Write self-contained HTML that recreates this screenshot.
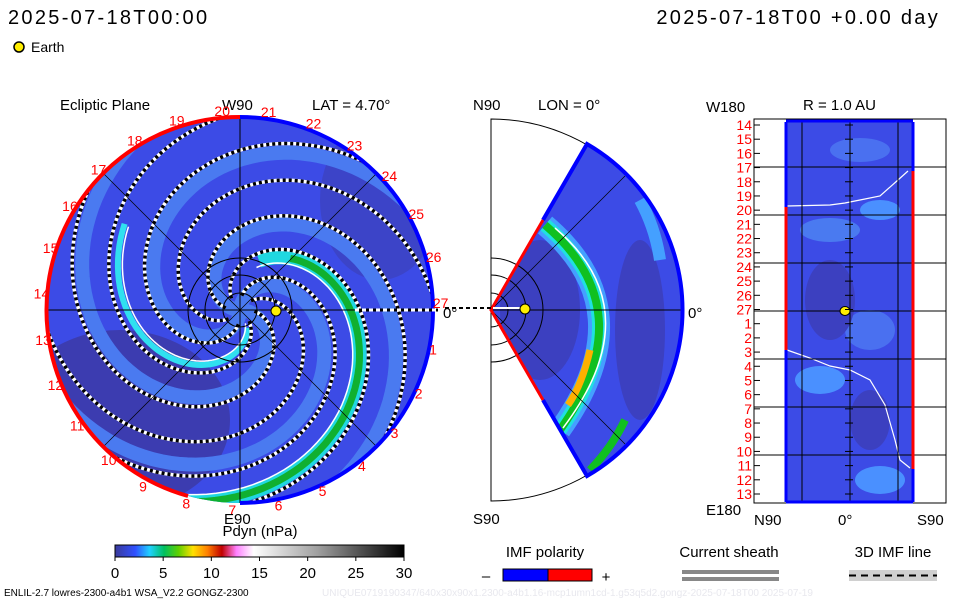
<!DOCTYPE html>
<html><head><meta charset="utf-8"><style>
html,body{margin:0;padding:0;background:#fff;}
svg{display:block;font-family:"Liberation Sans","DejaVu Sans",sans-serif;}
</style></head><body>
<svg id="s" width="960" height="600" viewBox="0 0 960 600" xmlns="http://www.w3.org/2000/svg">
<defs>
<clipPath id="cc"><circle cx="240" cy="310" r="193"/></clipPath>
<clipPath id="wc"><path d="M491,310 L587,144 A192,192 0 0 1 587,476 Z"/></clipPath>
<clipPath id="rc"><rect x="785" y="122" width="129" height="380"/></clipPath>
<linearGradient id="cbar" x1="0" x2="1" y1="0" y2="0">
<stop offset="0" stop-color="#3a3a9a"/><stop offset="0.07" stop-color="#3050ff"/><stop offset="0.12" stop-color="#20d0ff"/>
<stop offset="0.17" stop-color="#00c060"/><stop offset="0.22" stop-color="#60d000"/><stop offset="0.27" stop-color="#ffe000"/>
<stop offset="0.32" stop-color="#ff8000"/><stop offset="0.37" stop-color="#c00000"/><stop offset="0.42" stop-color="#ff80ff"/>
<stop offset="0.48" stop-color="#ffffff"/><stop offset="0.7" stop-color="#a0a0a0"/><stop offset="1" stop-color="#000"/>
</linearGradient>
</defs>

<text x="8" y="24" font-size="20" letter-spacing="2.3">2025-07-18T00:00</text>
<text x="940" y="24" font-size="20" letter-spacing="2.3" text-anchor="end">2025-07-18T00 +0.00 day</text>
<circle cx="19" cy="47" r="5" fill="#ffee00" stroke="#000" stroke-width="1.5"/>
<text x="31" y="52" font-size="14">Earth</text>

<g>
<text x="60" y="110" font-size="15">Ecliptic Plane</text>
<text x="222" y="110" font-size="15">W90</text>
<text x="312" y="110" font-size="15">LAT = 4.70°</text>
<circle cx="240" cy="310" r="193" fill="#3c4be6"/>
<g id="eclip" clip-path="url(#cc)">
<ellipse cx="120" cy="420" rx="110" ry="90" fill="#3c3cb0"/>
<ellipse cx="380" cy="200" rx="60" ry="80" fill="#3c44c8"/>
</g>
<line x1="47" y1="310" x2="433" y2="310" stroke="#000" stroke-width="1"/>
<line x1="240" y1="117" x2="240" y2="503" stroke="#000" stroke-width="1"/>
<line x1="104" y1="174" x2="376" y2="446" stroke="#000" stroke-width="0.7"/>
<line x1="104" y1="446" x2="376" y2="174" stroke="#000" stroke-width="0.7"/>
<circle cx="240" cy="310" r="17" fill="none" stroke="#000"/>
<circle cx="240" cy="310" r="35" fill="none" stroke="#000"/>
<circle cx="240" cy="310" r="52" fill="none" stroke="#000"/>
<path d="M240,117 A193,193 0 0 1 240,503" fill="none" stroke="#0000ff" stroke-width="4"/>
<path d="M240,117 A193,193 0 0 0 188,496" fill="none" stroke="#ff0000" stroke-width="4"/>
<line x1="355" y1="310" x2="438" y2="310" stroke="#fff" stroke-width="3" stroke-dasharray="4,3"/>
<line x1="355" y1="310" x2="438" y2="310" stroke="#000" stroke-width="3" stroke-dasharray="3,4" stroke-dashoffset="-4"/>
<circle cx="276" cy="311" r="5" fill="#ffee00" stroke="#000"/>
<text x="443" y="318" font-size="15">0°</text>
<g id="carr" font-size="14" fill="#ff0000"></g>
<text x="224" y="524" font-size="15">E90</text>
</g>

<g>
<text x="473" y="110" font-size="15">N90</text>
<text x="538" y="110" font-size="15">LON = 0°</text>
<path d="M491,119 A191,191 0 0 1 491,501 Z" fill="none" stroke="#000" stroke-width="1"/>
<path d="M491,310 L587,144 A192,192 0 0 1 587,476 Z" fill="#3c4be6"/>
<g clip-path="url(#wc)">
<ellipse cx="540" cy="310" rx="40" ry="70" fill="#3c40c0"/>
<ellipse cx="640" cy="330" rx="25" ry="90" fill="#3c40c0"/>
<path d="M545,225 Q645,310 560,430" fill="none" stroke="#44a0ff" stroke-width="22"/>
<path d="M545,225 Q645,310 560,430" fill="none" stroke="#20e0e0" stroke-width="14"/>
<path d="M545,225 Q645,310 560,430" fill="none" stroke="#10c020" stroke-width="8"/>
<path d="M590,350 Q582,385 568,405" fill="none" stroke="#ffb000" stroke-width="7"/>
<path d="M555,228 Q652,310 563,428" fill="none" stroke="#fff" stroke-width="1.5"/>
<path d="M625,420 A190,190 0 0 1 590,470" fill="none" stroke="#10c020" stroke-width="8"/>
<path d="M640,200 A180,180 0 0 1 660,260" fill="none" stroke="#44a0ff" stroke-width="12"/>
</g>
<line x1="491" y1="310" x2="683" y2="310" stroke="#000"/>
<line x1="491" y1="310" x2="625" y2="176" stroke="#000" stroke-width="0.7"/>
<line x1="491" y1="310" x2="625" y2="444" stroke="#000" stroke-width="0.7"/>
<path d="M491,293 A17,17 0 0 1 491,327 M491,275 A35,35 0 0 1 491,345 M491,258 A52,52 0 0 1 491,362" fill="none" stroke="#000"/>
<path d="M543,220 L587,144 A192,192 0 0 1 587,476 L543,400" fill="none" stroke="#0000ff" stroke-width="4"/>
<path d="M543,220 L491,310 L543,400" fill="none" stroke="#ff0000" stroke-width="3"/>
<line x1="445" y1="308" x2="491" y2="308" stroke="#000" stroke-width="2" stroke-dasharray="4,3"/>
<line x1="493" y1="308" x2="530" y2="308" stroke="#fff" stroke-width="2"/>
<circle cx="525" cy="309" r="5" fill="#ffee00" stroke="#000"/>
<text x="688" y="318" font-size="15">0°</text>
<text x="473" y="524" font-size="15">S90</text>
</g>

<g>
<text x="706" y="112" font-size="15">W180</text>
<text x="803" y="110" font-size="15">R = 1.0 AU</text>
<rect x="754" y="119" width="192" height="384" fill="none" stroke="#000"/>
<rect x="785" y="122" width="129" height="380" fill="#3c4be6"/>
<g clip-path="url(#rc)">
<ellipse cx="830" cy="230" rx="30" ry="12" fill="#4a7af0"/>
<ellipse cx="880" cy="210" rx="20" ry="10" fill="#4a90ff"/>
<ellipse cx="820" cy="380" rx="25" ry="14" fill="#4a90ff"/>
<ellipse cx="880" cy="480" rx="25" ry="14" fill="#4a90ff"/>
<ellipse cx="860" cy="150" rx="30" ry="12" fill="#4a70f0"/>
<ellipse cx="870" cy="330" rx="25" ry="20" fill="#4a70f0"/>
<ellipse cx="830" cy="300" rx="25" ry="40" fill="#3c40c0"/>
<ellipse cx="870" cy="420" rx="20" ry="30" fill="#3c40c0"/>
</g>
<path d="M787,206 L830,205 L845,203 L860,200 L880,196 L898,180 L908,171" fill="none" stroke="#fff" stroke-width="1.2"/>
<path d="M787,350 L810,358 L830,366 L850,370 L870,380 L885,405 L895,440 L900,460 L910,468" fill="none" stroke="#fff" stroke-width="1.2"/>
<g id="rgrid" stroke="#000" stroke-width="1"></g>
<path d="M786,122 L786,502 M913,122 L913,502 M786,121 L913,121 M786,502 L913,502" stroke="#0000ff" stroke-width="3" fill="none"/>
<line x1="786" y1="207" x2="786" y2="350" stroke="#ff0000" stroke-width="3"/>
<line x1="913" y1="171" x2="913" y2="469" stroke="#ff0000" stroke-width="3"/>
<ellipse cx="845" cy="311" rx="5" ry="4.5" fill="#ffee00" stroke="#000"/>
<g id="rlabels" font-size="14" fill="#ff0000" text-anchor="end"></g>
<text x="706" y="515" font-size="15">E180</text>
<text x="754" y="525" font-size="15">N90</text>
<text x="838" y="525" font-size="15">0°</text>
<text x="917" y="525" font-size="15">S90</text>
</g>

<g>
<text x="260" y="536" font-size="15" text-anchor="middle">Pdyn (nPa)</text>
<rect x="115" y="545" width="289" height="12" fill="url(#cbar)" stroke="#000"/>
<g id="cbticks" font-size="15" text-anchor="middle"></g>
</g>

<text x="545" y="557" font-size="15" text-anchor="middle">IMF polarity</text>
<text x="486" y="581" font-size="15" text-anchor="middle">–</text>
<rect x="503" y="569" width="45" height="12" fill="#0000ff" stroke="#000"/>
<rect x="548" y="569" width="44" height="12" fill="#ff0000" stroke="#000"/>
<text x="606" y="582" font-size="15" text-anchor="middle">+</text>
<text x="729" y="557" font-size="15" text-anchor="middle">Current sheath</text>
<rect x="682" y="570" width="97" height="4" fill="#888"/>
<rect x="682" y="577" width="97" height="4" fill="#888"/>
<text x="893" y="557" font-size="15" text-anchor="middle">3D IMF line</text>
<rect x="849" y="570" width="88" height="11" fill="#d0d0d0"/>
<line x1="849" y1="575.5" x2="937" y2="575.5" stroke="#000" stroke-width="2" stroke-dasharray="7,5"/>
<text x="4" y="596" font-size="10">ENLIL-2.7 lowres-2300-a4b1 WSA_V2.2 GONGZ-2300</text>
<text x="322" y="596" font-size="10" fill="#e8e8ee">UNIQUE0719190347/640x30x90x1.2300-a4b1.16-mcp1umn1cd-1.g53q5d2.gongz-2025-07-18T00   2025-07-19</text>
</svg>
<script>
const cbTicks=[0,5,10,15,20,25,30];
const carrLabels=[20,21,22,23,24,25,26,27,1,2,3,4,5,6,7,8,9,10,11,12,13,14,15,16,17,18,19];
const rLabels=[14,15,16,17,18,19,20,21,22,23,24,25,26,27,1,2,3,4,5,6,7,8,9,10,11,12,13];
const spiralOffsets=[0,0.75,1.5,2.3,3.1,3.9,4.7,5.5];
const NS="http://www.w3.org/2000/svg";
function mk(t,a,p){const e=document.createElementNS(NS,t);for(const k in a)e.setAttribute(k,a[k]);p.appendChild(e);return e;}
const cb=document.getElementById('cbticks');
const cx=v=>115+v/30*289;
cbTicks.forEach(v=>{const t=mk('text',{x:cx(v),y:578},cb);t.textContent=v;


mk('line',{x1:cx(v),x2:cx(v),y1:557,y2:561,stroke:'#000'},cb);});
const cg=document.getElementById('carr');
carrLabels.forEach((v,i)=>{const a=-Math.PI/2+(i-0.4)*2*Math.PI/27;const r=200;
const t=mk('text',{x:240+r*Math.cos(a)-7,y:310+r*Math.sin(a)+5},cg);t.textContent=v;

});
const eg=document.getElementById('eclip');
function spiral(p0,a0,a1){let d='';for(let a=a0;a<=a1;a+=0.05){const r=48*(a-p0);if(r<0)continue;const x=240+r*Math.cos(a),y=310+r*Math.sin(a);d+=(d?'L':'M')+x.toFixed(1)+','+y.toFixed(1);}return d;}
spiralOffsets.forEach((o,i)=>{if(i%2==0)mk('path',{d:spiral(-o,-o,-o+6),fill:'none',stroke:'#4a7af0','stroke-width':14},eg);});
mk('path',{d:spiral(-2.3,-1.2,1.9),fill:'none',stroke:'#20d8e0','stroke-width':14},eg);
mk('path',{d:spiral(-2.3,-0.8,1.9),fill:'none',stroke:'#10b030','stroke-width':7},eg);
mk('path',{d:spiral(-2.15,-1.2,1.9),fill:'none',stroke:'#fff','stroke-width':1.5},eg);
mk('path',{d:spiral(-5.5,-5.1,-2.5),fill:'none',stroke:'#30e0f0','stroke-width':6},eg);
mk('path',{d:spiral(-5.4,-5.1,-2.5),fill:'none',stroke:'#fff','stroke-width':1.5},eg);
spiralOffsets.forEach((o,i)=>{const d=spiral(-o-1,-o-0.7,-o+3.5+(i%3));
const p1=mk('path',{d:d,fill:'none',stroke:'#fff','stroke-width':3.5},eg);


mk('path',{d:d,fill:'none',stroke:'#000','stroke-width':3.5,'stroke-dasharray':'3,3'},eg);});
const rg=document.getElementById('rgrid');
[802,850,898].forEach(x=>mk('line',{x1:x,x2:x,y1:119,y2:503},rg));
[167,215,263,311,359,407,455].forEach(y=>mk('line',{x1:754,x2:946,y1:y,y2:y},rg));
const rl=document.getElementById('rlabels');
rLabels.forEach((v,i)=>{const y=125+i*(369/26);const t=mk('text',{x:752,y:y+5},rl);t.textContent=v;


mk('line',{x1:754,x2:760,y1:y,y2:y,stroke:'#000'},rl);mk('line',{x1:845,x2:853,y1:y,y2:y,stroke:'#000'},rl);});
</script>
</body></html>
